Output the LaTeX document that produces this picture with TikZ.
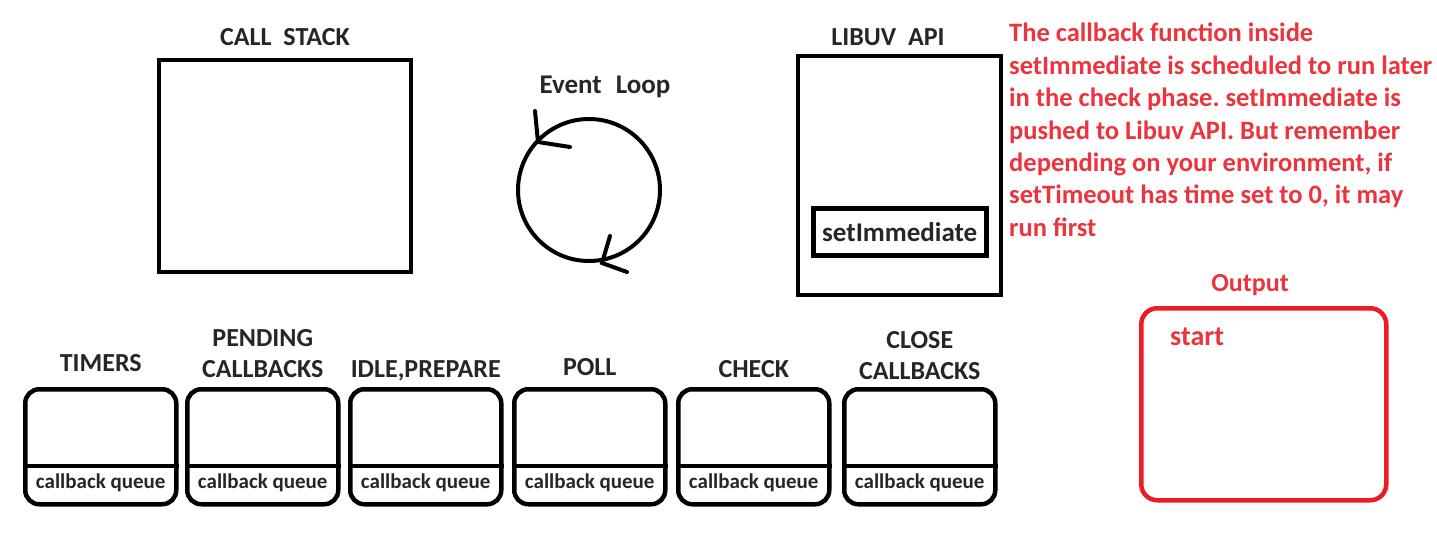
\documentclass[tikz,border=0pt]{standalone}
\usepackage{fontspec}
\setmainfont{Carlito}
\frenchspacing
\definecolor{notered}{RGB}{235,52,62}
\definecolor{boxred}{RGB}{237,28,36}
\begin{document}
\begin{tikzpicture}[x=1pt,y=-1pt,
  title/.style={font=\fontsize{26}{31}\selectfont\bfseries, text=black!85, align=center, inner sep=0pt},
  bigbox/.style={draw=black, line width=4pt},
  phasebox/.style={draw=black, line width=4.5pt, rounded corners=14pt},
  queuetext/.style={font=\fontsize{21}{24}\selectfont\bfseries, text=black!85, inner sep=0pt},
  stroke/.style={line width=4pt, line cap=round}]
\useasboundingbox[fill=white] (0,0) rectangle (1437,538);

% call stack
\node[bigbox, minimum width=252pt, minimum height=212pt, anchor=north west] (stack) at (157,58) {};
\node[title] (stacklbl) at (285,37) {CALL\ \ STACK};

% event loop
\node[title, font=\fontsize{27}{31}\selectfont\bfseries] (looplbl) at (605,87) {Event\hspace{14pt}Loop};
\node[draw=black, line width=4pt, circle, minimum size=142pt] (loop) at (589,190) {};
\coordinate (tipA) at (538,142);
\coordinate (tipB) at (602,263);
\draw[stroke] (535,111) -- (tipA) -- (570,147);
\draw[stroke] (610,236) -- (tipB) -- (627,272);

% libuv api
\node[bigbox, minimum width=203pt, minimum height=239pt, anchor=north west] (libuv) at (796,54) {};
\node[title] (libuvlbl) at (888,37) {LIBUV\ \ API};
\node[draw=black, line width=4.5pt, minimum width=173pt, minimum height=47pt, anchor=north west] (immediate) at (811,206) {};
\node[font=\fontsize{27}{30}\selectfont\bfseries, text=black!85] (immtext) at (immediate.center) {setImmediate};

% explanation
\node[anchor=north west, align=left, inner sep=0pt, text=notered,
      font=\fontsize{26.5}{32.4}\selectfont\bfseries] (note) at (1009,23)
  {The callback function inside\\
   setImmediate is scheduled to run later\\
   in the check phase. setImmediate is\\
   pushed to Libuv API. But remember\\
   depending on your environment, if\\
   setTimeout has time set to 0, it may\\
   run first};

% output
\node[title, text=notered] (outlbl) at (1250,285) {Output};
\node[draw=boxred, line width=4.5pt, rounded corners=16pt, minimum width=245pt, minimum height=192pt, anchor=north west] (output) at (1139,306) {};
\node[anchor=west, inner sep=0pt, text=notered, font=\fontsize{28}{30}\selectfont\bfseries] (start) at (1170,337) {start};

% phases of the loop
\foreach \name/\x/\lbl/\ly in {timers/23/TIMERS/363,
                               pending/185/PENDING\\CALLBACKS/354,
                               idle/348/IDLE{,}PREPARE/371,
                               poll/512/POLL/367,
                               check/676/CHECK/369,
                               close/842/CLOSE\\CALLBACKS/356} {
  \node[phasebox, minimum width=151pt, minimum height=115pt, anchor=north west] (\name) at (\x,387) {};
  \draw[line width=4pt] (\name.west |- 0,466) -- (\name.east |- 0,466);
  \node[queuetext] (\name q) at (\name.center |- 0,483) {callback queue};
  \node[title] (\name lbl) at (\name.center |- 0,\ly) {\lbl};
}
\end{tikzpicture}
\end{document}
